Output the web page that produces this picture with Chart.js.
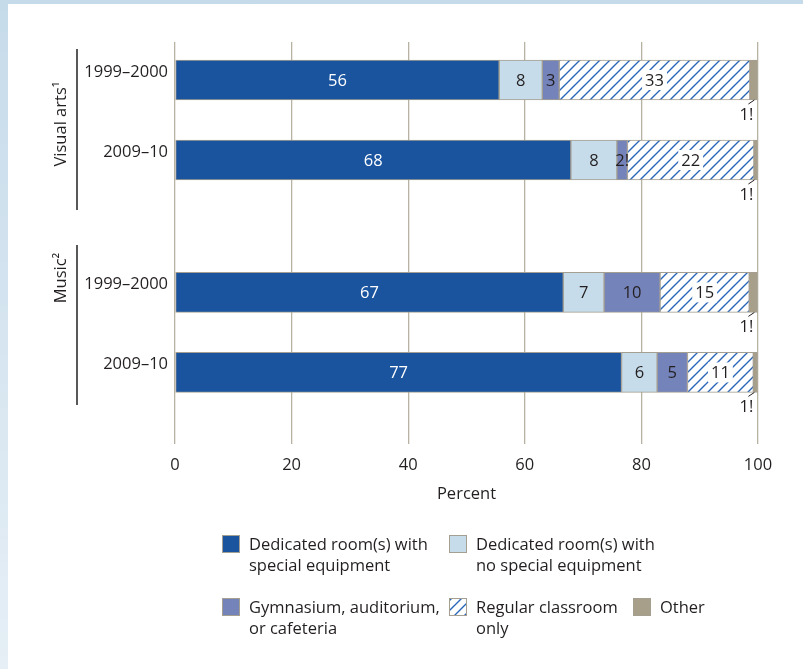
<!DOCTYPE html>
<html lang="en">
<head>
<meta charset="UTF-8" />
<title>Instructional space for visual arts and music</title>
<script src="https://cdn.jsdelivr.net/npm/chart.js@4"></script>
<style>
  html, body { margin: 0; padding: 0; }
  body { width: 803px; height: 669px; position: relative; overflow: hidden;
         background: linear-gradient(#c6dbea, #e6eff6); }
  #card { position: absolute; left: 8px; top: 4px; right: 0; bottom: 0; background: #fff; }
  #wrap { position: absolute; left: 0; top: 0; width: 803px; height: 669px; }
</style>
</head>
<body>
<div id="card"></div>
<div id="wrap"><canvas id="chart"></canvas></div>

<script>
  const groups = ['Visual arts¹', 'Music²'];
  const periods = ['1999–2000', '2009–10'];
  const seriesNames = [
    ['Dedicated room(s) with', 'special equipment'],
    ['Dedicated room(s) with', 'no special equipment'],
    ['Gymnasium, auditorium,', 'or cafeteria'],
    ['Regular classroom', 'only'],
    ['Other']
  ];
  const xTicks = [0, 20, 40, 60, 80, 100];

  // bar lengths in percent, rows: visual arts 99-00, visual arts 09-10, music 99-00, music 09-10
  const specialEquip     = [55.6, 67.9, 66.6, 76.6];
  const noSpecialEquip   = [7.4, 7.9, 7.0, 6.1];
  const gymAuditorium    = [2.9, 1.8, 9.6, 5.2];
  const regularClassroom = [32.7, 21.7, 15.3, 11.3];
  const otherSpace       = [1.3, 0.6, 1.4, 0.7];

  // numbers printed on the bars
  const specialEquipLabels     = ['56', '68', '67', '77'];
  const noSpecialEquipLabels   = ['8', '8', '7', '6'];
  const gymAuditoriumLabels    = ['3', '2!', '10', '5'];
  const regularClassroomLabels = ['33', '22', '15', '11'];
  const otherSpaceLabels       = ['1!', '1!', '1!', '1!'];

  const FONT = '"Open Sans", sans-serif';
  const FSIZE = 16.5;
  const INK = '#231f20';
  const EDGE = '#a59f91';

  const rowLabels = groups.flatMap(() => periods);
  // y axis unit = 40px, rows 2 apart inside a group, groups further apart
  function rowPos(r) {
    return 0.95 + Math.floor(r / 2) * 5.31 + (r % 2) * 2;
  }

  function makeHatch() {
    const c = document.createElement('canvas');
    c.width = 10; c.height = 10;
    const g = c.getContext('2d');
    g.fillStyle = '#fff';
    g.fillRect(0, 0, 10, 10);
    g.strokeStyle = '#2a66b8';
    g.lineWidth = 1.4;
    g.beginPath();
    g.moveTo(-1, 11); g.lineTo(11, -1);
    g.moveTo(-1, 1); g.lineTo(1, -1);
    g.moveTo(9, 11); g.lineTo(11, 9);
    g.stroke();
    return g.createPattern(c, 'repeat');
  }
  const hatch = makeHatch();

  const fills = ['#1a549f', '#c6dcea', '#7583bb', hatch, '#a89f8b'];
  const values = [specialEquip, noSpecialEquip, gymAuditorium, regularClassroom, otherSpace];
  const labels = [specialEquipLabels, noSpecialEquipLabels, gymAuditoriumLabels, regularClassroomLabels, otherSpaceLabels];

  const barLabels = {
    id: 'barLabels',
    afterDatasetsDraw(chart) {
      const ctx = chart.ctx;
      ctx.save();
      ctx.font = `${FSIZE}px ${FONT}`;
      ctx.textBaseline = 'middle';
      chart.data.datasets.forEach((ds, i) => {
        const meta = chart.getDatasetMeta(i);
        meta.data.forEach((el, r) => {
          const txt = labels[i][r];
          if (i === 4) {
            const bottom = el.y + el.height / 2;
            ctx.strokeStyle = INK;
            ctx.lineWidth = 1;
            ctx.beginPath();
            ctx.moveTo(el.x - 3, bottom);
            ctx.lineTo(el.x - 9, bottom + 4);
            ctx.stroke();
            ctx.fillStyle = INK;
            ctx.textAlign = 'right';
            ctx.fillText(txt, el.x - 4, bottom + 15);
            return;
          }
          const cx = (el.x + el.base) / 2;
          ctx.textAlign = 'center';
          if (i === 3) {
            const w = ctx.measureText(txt).width + 6;
            ctx.fillStyle = '#fff';
            ctx.fillRect(cx - w / 2, el.y - 10, w, 20);
          }
          ctx.fillStyle = i === 0 ? '#fff' : INK;
          ctx.fillText(txt, cx, el.y + 1);
        });
      });
      ctx.restore();
    }
  };

  const groupLabels = {
    id: 'groupLabels',
    afterDraw(chart) {
      const ctx = chart.ctx;
      ctx.save();
      ctx.strokeStyle = INK;
      ctx.lineWidth = 1.5;
      [[49, 210], [245, 405]].forEach(([a, b]) => {
        ctx.beginPath();
        ctx.moveTo(77, a);
        ctx.lineTo(77, b);
        ctx.stroke();
      });
      ctx.fillStyle = INK;
      ctx.font = `${FSIZE}px ${FONT}`;
      ctx.textAlign = 'center';
      ctx.textBaseline = 'middle';
      [124, 278].forEach((cy, g) => {
        ctx.save();
        ctx.translate(61, cy);
        ctx.rotate(-Math.PI / 2);
        ctx.fillText(groups[g], 0, 0);
        ctx.restore();
      });
      ctx.restore();
    }
  };

  const boxLegend = {
    id: 'boxLegend',
    afterDraw(chart) {
      const ctx = chart.ctx;
      const cols = [222, 449, 633];
      const rows = [535, 598];
      const place = [[0, 0], [1, 0], [0, 1], [1, 1], [2, 1]];
      ctx.save();
      ctx.font = `${FSIZE}px ${FONT}`;
      ctx.textBaseline = 'middle';
      ctx.textAlign = 'left';
      seriesNames.forEach((lines, i) => {
        const x = cols[place[i][0]];
        const y = rows[place[i][1]];
        ctx.fillStyle = fills[i];
        ctx.fillRect(x, y, 18, 18);
        ctx.strokeStyle = EDGE;
        ctx.lineWidth = 1;
        ctx.strokeRect(x + 0.5, y + 0.5, 17, 17);
        ctx.fillStyle = INK;
        lines.forEach((t, k) => ctx.fillText(t, x + 27, y + 10 + k * 21.5));
      });
      ctx.restore();
    }
  };

  new Chart(document.getElementById('chart'), {
    type: 'bar',
    data: {
      datasets: values.map((vals, i) => ({
        label: seriesNames[i].join(' '),
        data: vals.map((v, r) => ({ x: v, y: rowPos(r) })),
        backgroundColor: fills[i],
        borderColor: EDGE,
        borderWidth: 1,
        borderSkipped: false,
        barThickness: 40
      }))
    },
    options: {
      responsive: true,
      maintainAspectRatio: false,
      animation: false,
      indexAxis: 'y',
      layout: { padding: { top: 42, right: 45, bottom: 163, left: 0 } },
      plugins: {
        legend: { display: false },
        tooltip: { enabled: false }
      },
      scales: {
        x: {
          type: 'linear',
          stacked: true,
          min: 0,
          max: 100,
          afterBuildTicks: s => { s.ticks = xTicks.map(v => ({ value: v })); },
          afterFit: s => { s.height = 62; },
          grid: { color: '#b8b2a3', lineWidth: 1.3, drawTicks: false },
          border: { display: false },
          ticks: { padding: 11, color: INK, font: { family: FONT, size: FSIZE } },
          title: {
            display: true,
            text: 'Percent',
            color: INK,
            font: { family: FONT, size: FSIZE },
            padding: { top: 0, bottom: 2 }
          }
        },
        y: {
          type: 'linear',
          stacked: true,
          reverse: true,
          offset: false,
          min: 0,
          max: 10.05,
          afterBuildTicks: s => { s.ticks = rowLabels.map((_, r) => ({ value: rowPos(r) })); },
          afterFit: s => { s.width = 175; },
          grid: { display: false, drawTicks: false },
          border: { display: false },
          ticks: {
            callback: (v, i) => rowLabels[i],
            padding: 7,
            labelOffset: -8,
            color: INK,
            font: { family: FONT, size: FSIZE }
          }
        }
      }
    },
    plugins: [barLabels, groupLabels, boxLegend]
  });
</script>
</body>
</html>
